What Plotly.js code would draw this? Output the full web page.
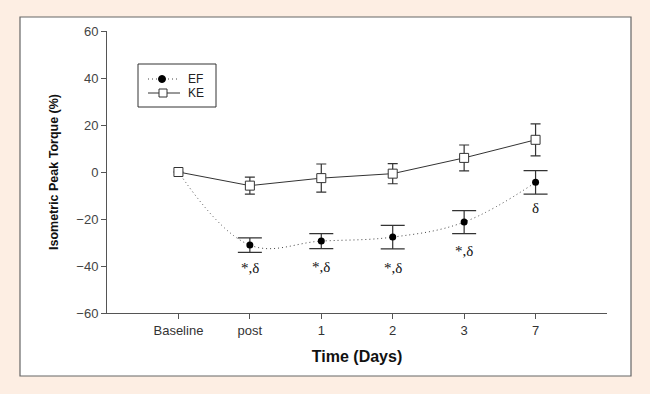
<!DOCTYPE html>
<html><head><meta charset="utf-8">
<script src="https://cdn.plot.ly/plotly-3.0.1.min.js"></script>
<style>html,body{margin:0;padding:0;background:#fdeee3;}</style>
</head><body><div id="chart" style="width:650px;height:394px;"></div>
<script>
const categories = ["Baseline", "post", "1", "2", "3", "7"];
const efValues = [0, -31.1, -29.4, -27.7, -21.3, -4.4];
const efErrors = [0, 3.1, 3.2, 5.0, 4.9, 5.0];
const keValues = [0, -5.8, -2.6, -0.7, 6.0, 13.7];
const keErrors = [0, 3.6, 6.0, 4.3, 5.5, 6.8];
const sigLabels = ["", "*,\u03b4", "*,\u03b4", "*,\u03b4", "*,\u03b4", "\u03b4"];
const sigY = [null, -41, -40.5, -41, -33.5, -15.5];
const yTicks = [-60, -40, -20, 0, 20, 40, 60];

const idx = categories.map((c, i) => i);

const efLine = {
  x: idx, y: efValues, name: "EF", type: "scatter", mode: "lines",
  line: {color: "#444", width: 1, dash: "1px,3px", shape: "spline", smoothing: 1.1},
  showlegend: false, hoverinfo: "skip"
};
const efPts = {
  x: idx.slice(1), y: efValues.slice(1), name: "EF", type: "scatter", mode: "markers",
  marker: {color: "#000", size: 7, symbol: "circle"},
  error_y: {type: "data", array: efErrors.slice(1), visible: true, color: "#333", thickness: 1.2, width: 12},
  showlegend: false
};
const keTrace = {
  x: idx, y: keValues, name: "KE", type: "scatter", mode: "lines+markers",
  line: {color: "#333", width: 1},
  marker: {color: "#fff", size: 9, symbol: "square", line: {color: "#333", width: 1}},
  error_y: {type: "data", array: keErrors, visible: true, color: "#333", thickness: 1.2, width: 5},
  showlegend: false
};

function px(xp) { return (xp - 107) / 500; }
function py(yp) { return (313 - yp) / 282; }

const annotations = [];
categories.forEach((c, i) => {
  if (sigLabels[i]) {
    annotations.push({x: i, y: sigY[i], xref: "x", yref: "y", text: sigLabels[i],
      showarrow: false, font: {family: "Liberation Serif, Times New Roman, serif", size: 15, color: "#111"}});
  }
});
annotations.push({xref: "paper", yref: "paper", x: px(186), y: py(79), xanchor: "left", yanchor: "middle",
  text: "EF", showarrow: false, font: {family: "Liberation Sans, Arial, sans-serif", size: 12, color: "#222"}});
annotations.push({xref: "paper", yref: "paper", x: px(186), y: py(93), xanchor: "left", yanchor: "middle",
  text: "KE", showarrow: false, font: {family: "Liberation Sans, Arial, sans-serif", size: 12, color: "#222"}});

const shapes = [
  {type: "rect", xref: "paper", yref: "paper", x0: px(20), x1: px(631), y0: py(376), y1: py(17),
   fillcolor: "#ffffff", line: {color: "#666", width: 1.2}, layer: "below"},
  {type: "rect", xref: "paper", yref: "paper", x0: px(138), x1: px(216), y0: py(107), y1: py(64),
   fillcolor: "rgba(0,0,0,0)", line: {color: "#333", width: 1}},
  {type: "line", xref: "paper", yref: "paper", x0: px(148), x1: px(179), y0: py(79), y1: py(79),
   line: {color: "#444", width: 1, dash: "1px,3px"}},
  {type: "line", xref: "paper", yref: "paper", x0: px(148), x1: px(180), y0: py(93), y1: py(93),
   line: {color: "#333", width: 1}},
  {type: "circle", xref: "paper", yref: "paper", x0: px(158.5), x1: px(165.5), y0: py(82.5), y1: py(75.5),
   fillcolor: "#000", line: {color: "#000", width: 1}},
  {type: "rect", xref: "paper", yref: "paper", x0: px(159), x1: px(167), y0: py(97), y1: py(89),
   fillcolor: "#fff", line: {color: "#333", width: 1}}
];

const layout = {
  width: 650, height: 394,
  paper_bgcolor: "#fdeee3", plot_bgcolor: "rgba(0,0,0,0)",
  margin: {l: 107, r: 43, t: 31, b: 81},
  font: {family: "Liberation Sans, Arial, sans-serif", size: 13, color: "#333"},
  xaxis: {
    range: [-1, 6], tickmode: "array", tickvals: idx, ticktext: categories,
    showline: true, linecolor: "#555", linewidth: 1, ticks: "outside", ticklen: 5, tickcolor: "#555",
    showgrid: false, zeroline: false, tickfont: {size: 13, color: "#333"},
    title: {text: "<b>Time (Days)</b>", font: {size: 16, color: "#111"}, standoff: 14}
  },
  yaxis: {
    range: [-60, 60], tickmode: "array", tickvals: yTicks,
    showline: true, linecolor: "#555", linewidth: 1, ticks: "outside", ticklen: 5, tickcolor: "#555",
    showgrid: false, zeroline: false, tickfont: {size: 13, color: "#444"},
    title: {text: "<b>Isometric Peak Torque (%)</b>", font: {size: 12.5, color: "#111"}, standoff: 14}
  },
  showlegend: false,
  shapes: shapes,
  annotations: annotations
};

Plotly.newPlot("chart", [efLine, efPts, keTrace], layout, {displayModeBar: false, staticPlot: true});
</script>
</body></html>
